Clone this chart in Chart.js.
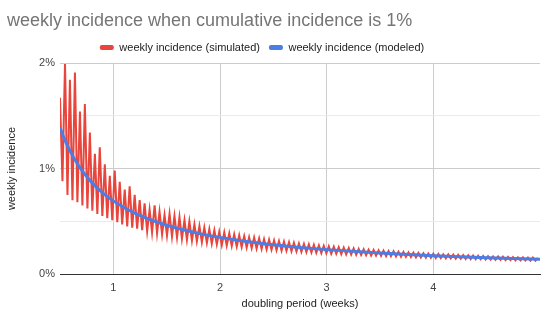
<!DOCTYPE html>
<html><head><meta charset="utf-8">
<script src="https://cdn.jsdelivr.net/npm/chart.js@4.4.1/dist/chart.umd.min.js"></script>
<style>html,body{margin:0;padding:0;background:#fff}#wrap{width:550px;height:327px}</style>
</head><body><div id="wrap"><canvas id="c" width="550" height="327"></canvas></div>
<script>
const chartTitle = 'weekly incidence when cumulative incidence is 1%';
const seriesNames = ['weekly incidence (simulated)', 'weekly incidence (modeled)'];
const xAxisTitle = 'doubling period (weeks)';
const yAxisTitle = 'weekly incidence';
const xTickValues = [1, 2, 3, 4];
const yTickValues = [0, 0.5, 1, 1.5, 2];

// simulated series: doubling period (weeks) and weekly incidence (%)
const simX = [
0.500,0.523,0.547,0.570,0.593,0.617,0.640,0.663,0.687,0.710,
0.733,0.757,0.780,0.803,0.827,0.850,0.873,0.897,0.920,0.943,
0.967,0.990,1.013,1.037,1.060,1.083,1.107,1.130,1.153,1.177,
1.200,1.223,1.247,1.270,1.293,1.317,1.340,1.363,1.387,1.410,
1.433,1.457,1.480,1.503,1.527,1.550,1.573,1.597,1.620,1.643,
1.667,1.690,1.713,1.737,1.760,1.783,1.807,1.830,1.853,1.877,
1.900,1.923,1.947,1.970,1.993,2.017,2.040,2.063,2.087,2.110,
2.133,2.157,2.180,2.203,2.227,2.250,2.273,2.297,2.320,2.343,
2.367,2.390,2.413,2.437,2.460,2.483,2.507,2.530,2.553,2.577,
2.600,2.623,2.647,2.670,2.693,2.717,2.740,2.763,2.787,2.810,
2.833,2.857,2.880,2.903,2.927,2.950,2.973,2.997,3.020,3.043,
3.067,3.090,3.113,3.137,3.160,3.183,3.207,3.230,3.253,3.277,
3.300,3.323,3.347,3.370,3.393,3.417,3.440,3.463,3.487,3.510,
3.533,3.557,3.580,3.603,3.627,3.650,3.673,3.697,3.720,3.743,
3.767,3.790,3.813,3.837,3.860,3.883,3.907,3.930,3.953,3.977,
4.000,4.023,4.047,4.070,4.093,4.117,4.140,4.163,4.187,4.210,
4.233,4.257,4.280,4.303,4.327,4.350,4.373,4.397,4.420,4.443,
4.467,4.490,4.513,4.537,4.560,4.583,4.607,4.630,4.653,4.677,
4.700,4.723,4.747,4.770,4.793,4.817,4.840,4.863,4.887,4.910,
4.933,4.957,4.980];
const simY = [
1.67,0.88,1.99,0.75,1.84,0.70,1.91,0.68,1.54,0.65,
1.61,0.62,1.34,0.60,1.14,0.57,1.20,0.55,1.04,0.53,
0.93,0.51,0.98,0.49,0.875,0.47,0.80,0.45,0.83,0.44,
0.75,0.43,0.70,0.415,0.67,0.405,0.61,0.395,0.65,0.385,
0.59,0.375,0.56,0.365,0.57,0.355,0.55,0.345,0.54,0.335,
0.51,0.325,0.50,0.317,0.47,0.31,0.455,0.302,0.44,0.295,
0.425,0.288,0.415,0.281,0.40,0.275,0.395,0.27,0.385,0.265,
0.375,0.26,0.366,0.255,0.36,0.25,0.35,0.245,0.345,0.241,
0.338,0.237,0.33,0.233,0.325,0.229,0.318,0.225,0.312,0.222,
0.307,0.219,0.301,0.216,0.296,0.213,0.29,0.21,0.285,0.207,
0.281,0.204,0.276,0.201,0.271,0.198,0.267,0.196,0.262,0.193,
0.258,0.191,0.254,0.188,0.25,0.186,0.246,0.184,0.242,0.182,
0.238,0.18,0.234,0.178,0.231,0.176,0.227,0.174,0.224,0.172,
0.221,0.17,0.218,0.168,0.215,0.166,0.212,0.164,0.209,0.162,
0.206,0.16,0.203,0.158,0.2,0.157,0.197,0.155,0.195,0.153,
0.192,0.152,0.19,0.15,0.187,0.149,0.185,0.147,0.183,0.146,
0.181,0.144,0.179,0.143,0.177,0.141,0.175,0.14,0.173,0.139,
0.171,0.137,0.169,0.136,0.167,0.135,0.166,0.134,0.164,0.132,
0.162,0.131,0.161,0.13,0.159,0.129,0.158,0.128,0.156,0.127,
0.155,0.126,0.153];

// modeled series
const modelX = [0.5,0.55,0.6,0.65,0.7,0.8,0.9,1,1.1,1.2,1.4,1.6,1.8,2,2.25,2.5,2.75,3,3.5,4,4.5,5];
const modelY = [1.386,1.26,1.155,1.066,0.99,0.866,0.77,0.693,0.63,0.578,0.495,0.433,0.385,0.347,0.308,0.277,0.252,0.231,0.198,0.173,0.154,0.139];

const RED = '#e8453c';
const BLUE = '#4a7ee6';
const FONT = "'Liberation Sans', Arial, sans-serif";

const shiftPlugin = {
  id: 'shiftBlocks',
  afterLayout(chart) {
    if (chart.legend) { chart.legend.left -= 8; chart.legend.right -= 8; }
    if (chart.titleBlock) { chart.titleBlock.left += 7; chart.titleBlock.right += 7; }
  }
};

new Chart(document.getElementById('c').getContext('2d'), {
  type: 'line',
  data: {
    datasets: [
      {
        label: seriesNames[0],
        data: simX.map((x, i) => ({ x: x, y: simY[i] })),
        borderColor: RED, backgroundColor: RED,
        borderWidth: 2, pointRadius: 0, tension: 0, order: 1
      },
      {
        label: seriesNames[1],
        data: modelX.map((x, i) => ({ x: x, y: modelY[i] })),
        borderColor: BLUE, backgroundColor: BLUE,
        borderWidth: 3, pointRadius: 0, cubicInterpolationMode: 'monotone', order: 0
      }
    ]
  },
  options: {
    responsive: false,
    animation: false,
    devicePixelRatio: 1,
    layout: { padding: { left: 0, right: 10, top: 0, bottom: 0 } },
    plugins: {
      title: {
        display: true, text: chartTitle, align: 'start', color: '#757575',
        font: { family: FONT, size: 18, weight: 'normal', lineHeight: 1 },
        padding: { top: 6, bottom: 2.5 }
      },
      legend: {
        display: true, position: 'top', align: 'center',
        labels: {
          color: '#222', boxWidth: 14, boxHeight: 5, padding: 9,
          useBorderRadius: true, borderRadius: 2,
          font: { family: FONT, size: 11 },
          generateLabels: chart => Chart.defaults.plugins.legend.labels.generateLabels(chart).map(l => Object.assign(l, { lineWidth: 0 })),
          sort: (a, b) => a.datasetIndex - b.datasetIndex
        }
      },
      tooltip: { enabled: false }
    },
    scales: {
      x: {
        type: 'linear', min: 0.5, max: 5,
        afterBuildTicks: s => { s.ticks = xTickValues.map(v => ({ value: v })); },
        ticks: { color: '#444', padding: 7, font: { family: FONT, size: 11 }, callback: v => String(v) },
        grid: { color: '#cccccc', drawTicks: false },
        border: { display: true, color: '#333333', width: 1 },
        title: { display: true, text: xAxisTitle, color: '#222', font: { family: FONT, size: 11 }, padding: { top: 0, bottom: 16 } },
        afterFit: s => { s.height = 53; }
      },
      y: {
        min: 0, max: 2,
        afterBuildTicks: s => { s.ticks = yTickValues.map(v => ({ value: v })); },
        ticks: { color: '#444', padding: 5, font: { family: FONT, size: 11 }, callback: v => Number.isInteger(v) ? v + '%' : '' },
        grid: {
          drawTicks: false,
          color: c => c.tick.value === 0 ? 'rgba(0,0,0,0)' : (Number.isInteger(c.tick.value) ? '#cccccc' : '#ebebeb')
        },
        border: { display: false },
        title: { display: true, text: yAxisTitle, color: '#222', font: { family: FONT, size: 11 }, padding: { top: 5, bottom: 0 } },
        afterFit: s => { s.width = 60; s.paddingTop = 63; }
      }
    }
  },
  plugins: [shiftPlugin]
});
</script>
</body></html>
